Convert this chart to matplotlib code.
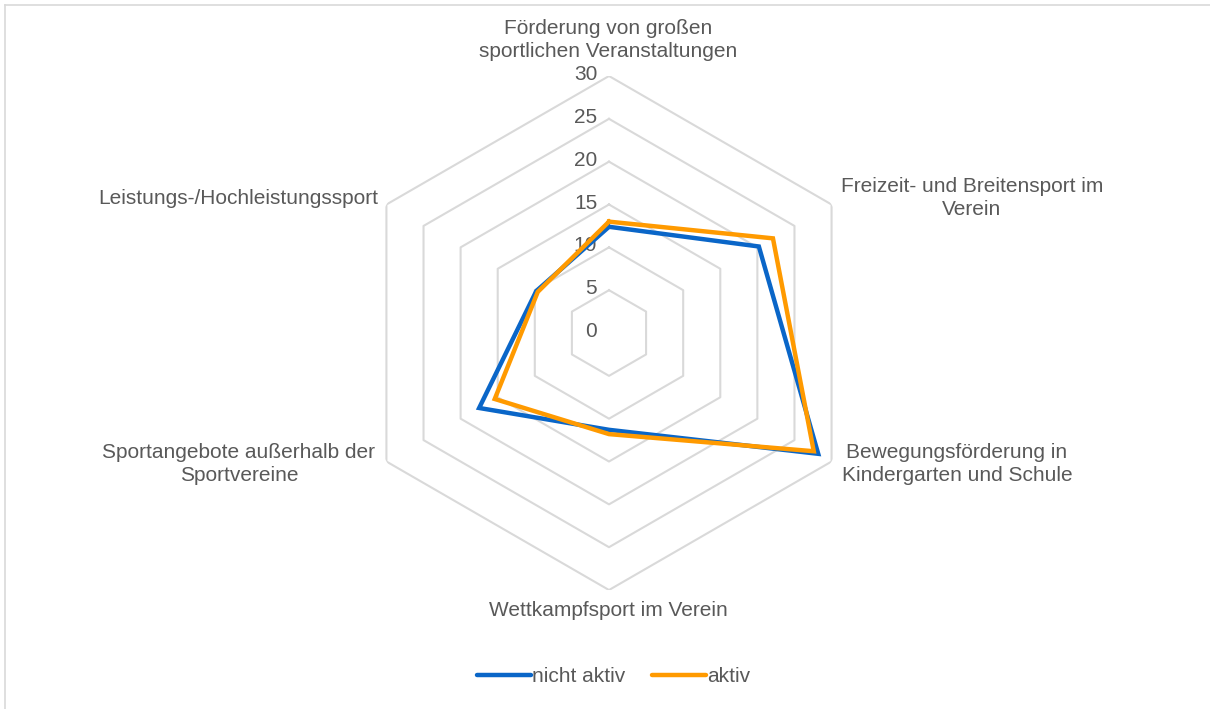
import numpy as np
import matplotlib.pyplot as plt
from matplotlib.lines import Line2D

plt.rcParams['font.family'] = ['Liberation Sans', 'DejaVu Sans']

categories = [
    'Förderung von großen\nsportlichen Veranstaltungen',
    'Freizeit- und Breitensport im\nVerein',
    'Bewegungsförderung in\nKindergarten und Schule',
    'Wettkampfsport im Verein',
    'Sportangebote außerhalb der\nSportvereine',
    'Leistungs-/Hochleistungssport',
]
nicht_aktiv = [12.4, 20.2, 28.2, 11.3, 17.5, 9.8]
aktiv = [13.0, 22.1, 27.6, 11.8, 15.4, 9.6]
ticks = [0, 5, 10, 15, 20, 25, 30]

BLUE = '#0A66C8'
ORANGE = '#FF9A00'
TXT = '#595959'
GRID = '#D9D9D9'
FS = 15

n = len(categories)
angles = np.linspace(0, 2 * np.pi, n, endpoint=False)
ang_closed = np.append(angles, angles[0])

fig = plt.figure(figsize=(12.1, 7.09), dpi=100)
ax = fig.add_axes([0.2909, 0.1678, 0.4248, 0.725], projection='polar')
ax.set_theta_zero_location('N')
ax.set_theta_direction(-1)
ax.set_ylim(0, 30)
ax.grid(False)
ax.spines['polar'].set_visible(False)
ax.set_xticks([])
ax.set_yticks([])
ax.patch.set_alpha(0)

# hexagonal grid
for t in ticks[1:]:
    ax.plot(ang_closed, [t] * (n + 1), color=GRID, lw=1.5, zorder=1)

# radial value labels
for t in ticks:
    ax.annotate(str(t), xy=(0, t), xytext=(-8.5, 1), textcoords='offset points',
                ha='right', va='center', fontsize=FS, color=TXT,
                annotation_clip=False)

ax.plot(ang_closed, nicht_aktiv + nicht_aktiv[:1], color=BLUE, lw=3.2,
        label='nicht aktiv', zorder=3, solid_joinstyle='miter')
ax.plot(ang_closed, aktiv + aktiv[:1], color=ORANGE, lw=3.2,
        label='aktiv', zorder=4, solid_joinstyle='miter')

# category labels (pixel positions from top-left)
W, H = 1210, 709
label_pos = [
    (608, 40, 'center'),
    (972, 198, 'center'),
    (957, 464, 'center'),
    (608, 610, 'center'),
    (239, 464, 'center'),
    (378, 199, 'right'),
]
for lab, (px, py, ha) in zip(categories, label_pos):
    fig.text(px / W, 1 - py / H, lab, ha=ha, va='center', fontsize=FS,
             color=TXT, linespacing=1.28, multialignment='center')

handles = [
    Line2D([], [], color=BLUE, lw=3.2, solid_capstyle='round'),
    Line2D([], [], color=ORANGE, lw=3.2, solid_capstyle='round'),
]
leg = fig.legend(handles, ['nicht aktiv', 'aktiv'], loc='center',
                 bbox_to_anchor=(0.507, 1 - 677 / H), ncol=2, frameon=False,
                 fontsize=FS, handlelength=2.6, handletextpad=0.05,
                 columnspacing=1.3)
for t in leg.get_texts():
    t.set_color(TXT)

# chart area border (left and top edges visible)
fig.add_artist(Line2D([5 / W, 5 / W], [0, 1 - 5 / H], color=GRID, lw=1.2))
fig.add_artist(Line2D([5 / W, 1], [1 - 5 / H, 1 - 5 / H], color=GRID, lw=1.2))

fig.savefig('out.png', dpi=100)
